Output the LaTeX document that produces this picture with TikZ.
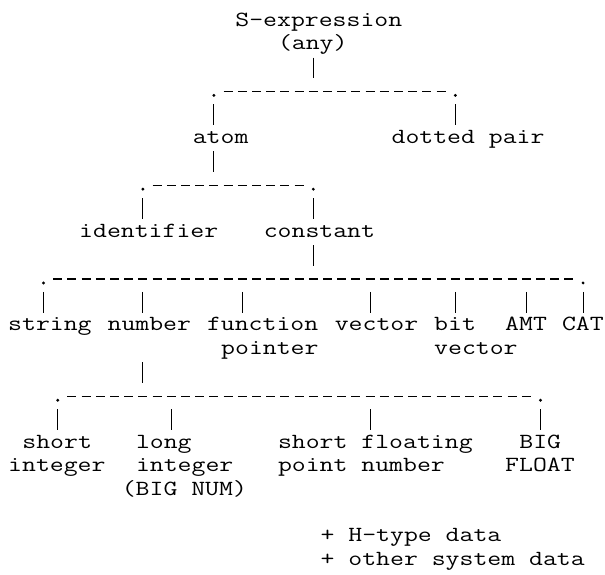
\documentclass[tikz,border=0pt]{standalone}
\usepackage{fontspec}
\newfontfamily\twfont[FakeStretch=1.25]{Latin Modern Mono}
\newcommand\colL[1]{(8+14.2*(#1))}
\newcommand\colC[1]{(15.1+14.2*(#1))}
\newcommand\rowC[1]{(21+23.45*(#1))}
\newcommand\rowB[1]{(26+23.45*(#1))}
\tikzset{
  txt/.style={font=\twfont\fontsize{21.6pt}{24pt}\selectfont, inner sep=0pt, anchor=base west, text height=14pt, text depth=4pt},
  bar/.style={line width=1.1pt},
  childbar/.style={bar, shorten <=13pt, shorten >=4pt},
  parentbar/.style={bar, shorten <=4pt, shorten >=13pt},
  bus/.style={line width=1.3pt, dash pattern=on 9pt off 5.2pt},
  jdot/.style={circle, fill, inner sep=0pt, minimum size=3.2pt}
}
\begin{document}
\begin{tikzpicture}[x=1pt,y=-1pt]
\useasboundingbox (0,0) rectangle (605,574);
% ---------- text nodes ----------
\node[txt] (sexpr) at ({\colL{16}},{\rowB{0}}) {S-expression};
\node[txt] (any)   at ({\colL{19}},{\rowB{1}}) {(any)};
\node[txt] (atom)  at ({\colL{13}},{\rowB{5}}) {atom};
\node[txt] (dpair) at ({\colL{27}},{\rowB{5}}) {dotted pair};
\node[txt] (ident) at ({\colL{5}},{\rowB{9}}) {identifier};
\node[txt] (const) at ({\colL{18}},{\rowB{9}}) {constant};
\node[txt] (string) at ({\colL{0}},{\rowB{13}}) {string};
\node[txt] (number) at ({\colL{7}},{\rowB{13}}) {number};
\node[txt] (func)  at ({\colL{14}},{\rowB{13}}) {function};
\node[txt] (func2) at ({\colL{15}},{\rowB{14}}) {pointer};
\node[txt] (vector) at ({\colL{23}},{\rowB{13}}) {vector};
\node[txt] (bitv)  at ({\colL{30}},{\rowB{13}}) {bit};
\node[txt] (bitv2) at ({\colL{30}},{\rowB{14}}) {vector};
\node[txt] (amt)   at ({\colL{35}},{\rowB{13}}) {AMT};
\node[txt] (cat)   at ({\colL{39}},{\rowB{13}}) {CAT};
\node[txt] (sint)  at ({\colL{1}},{\rowB{18}}) {short};
\node[txt] (sint2) at ({\colL{0}},{\rowB{19}}) {integer};
\node[txt] (lint)  at ({\colL{9}},{\rowB{18}}) {long};
\node[txt] (lint2) at ({\colL{9}},{\rowB{19}}) {integer};
\node[txt] (lint3) at ({\colL{8}},{\rowB{20}}) {(BIG NUM)};
\node[txt] (sfp)   at ({\colL{19}},{\rowB{18}}) {short floating};
\node[txt] (sfp2)  at ({\colL{19}},{\rowB{19}}) {point number};
\node[txt] (bigf)  at ({\colL{36}},{\rowB{18}}) {BIG};
\node[txt] (bigf2) at ({\colL{35}},{\rowB{19}}) {FLOAT};
\node[txt] (note1) at ({\colL{22}},{\rowB{22}}) {+ H-type data};
\node[txt] (note2) at ({\colL{22}},{\rowB{23}}) {+ other system data};
% ---------- bus 1 (row 3, cols 14..31) ----------
\coordinate (b1s) at ({\colL{15}+2.6},{\rowC{3}});
\coordinate (b1e) at ({\colL{31}-2.6},{\rowC{3}});
\draw[bus] (b1s) -- (b1e);
\node[jdot] at ({\colC{14}},{\rowC{3}+4}) {};
\node[jdot] at ({\colC{31}},{\rowC{3}+4}) {};
\coordinate (p-any) at ({\colC{21}},{\rowC{3}});
\coordinate (c-atom) at ({\colC{14}},{\rowC{3}});
\coordinate (c-dpair) at ({\colC{31}},{\rowC{3}});
\draw[parentbar] (p-any |- any.south) -- (p-any);
\draw[childbar] (c-atom) -- (c-atom |- atom.north);
\draw[childbar] (c-dpair) -- (c-dpair |- dpair.north);
% ---------- bus 2 (row 7, cols 9..21) ----------
\coordinate (b2s) at ({\colL{10}+2.6},{\rowC{7}});
\coordinate (b2e) at ({\colL{21}-2.6},{\rowC{7}});
\draw[bus] (b2s) -- (b2e);
\node[jdot] at ({\colC{9}},{\rowC{7}+4}) {};
\node[jdot] at ({\colC{21}},{\rowC{7}+4}) {};
\coordinate (p-atom) at ({\colC{14}},{\rowC{7}});
\coordinate (c-ident) at ({\colC{9}},{\rowC{7}});
\coordinate (c-const) at ({\colC{21}},{\rowC{7}});
\draw[parentbar] (p-atom |- atom.south) -- (p-atom);
\draw[childbar] (c-ident) -- (c-ident |- ident.north);
\draw[childbar] (c-const) -- (c-const |- const.north);
% ---------- bus 3 (row 11, cols 2..40) ----------
\coordinate (b3s) at ({\colL{3}+2.6},{\rowC{11}});
\coordinate (b3e) at ({\colL{40}-2.6},{\rowC{11}});
\draw[bus] (b3s) -- (b3e);
\node[jdot] at ({\colC{2}},{\rowC{11}+4}) {};
\node[jdot] at ({\colC{40}},{\rowC{11}+4}) {};
\coordinate (p-const) at ({\colC{21}},{\rowC{11}});
\draw[parentbar] (p-const |- const.south) -- (p-const);
\coordinate (c-string) at ({\colC{2}},{\rowC{11}});
\coordinate (c-number) at ({\colC{9}},{\rowC{11}});
\coordinate (c-func) at ({\colC{16}},{\rowC{11}});
\coordinate (c-vector) at ({\colC{25}},{\rowC{11}});
\coordinate (c-bitv) at ({\colC{31}},{\rowC{11}});
\coordinate (c-amt) at ({\colC{36}},{\rowC{11}});
\coordinate (c-cat) at ({\colC{40}},{\rowC{11}});
\draw[childbar] (c-string) -- (c-string |- string.north);
\draw[childbar] (c-number) -- (c-number |- number.north);
\draw[childbar] (c-func) -- (c-func |- func.north);
\draw[childbar] (c-vector) -- (c-vector |- vector.north);
\draw[childbar] (c-bitv) -- (c-bitv |- bitv.north);
\draw[childbar] (c-amt) -- (c-amt |- amt.north);
\draw[childbar] (c-cat) -- (c-cat |- cat.north);
% ---------- bus 4 (row 16, cols 3..37) ----------
\coordinate (b4s) at ({\colL{4}+2.6},{\rowC{16}});
\coordinate (b4e) at ({\colL{37}-2.6},{\rowC{16}});
\draw[bus] (b4s) -- (b4e);
\node[jdot] at ({\colC{3}},{\rowC{16}+4}) {};
\node[jdot] at ({\colC{37}},{\rowC{16}+4}) {};
\coordinate (p-number) at ({\colC{9}},{\rowC{16}});
\draw[bar, shorten <=27.4pt, shorten >=13pt] (p-number |- number.south) -- (p-number);
\coordinate (c-sint) at ({\colC{3}},{\rowC{16}});
\coordinate (c-lint) at ({\colC{11}},{\rowC{16}});
\coordinate (c-sfp) at ({\colC{25}},{\rowC{16}});
\coordinate (c-bigf) at ({\colC{37}},{\rowC{16}});
\draw[childbar] (c-sint) -- (c-sint |- sint.north);
\draw[childbar] (c-lint) -- (c-lint |- lint.north);
\draw[childbar] (c-sfp) -- (c-sfp |- sfp.north);
\draw[childbar] (c-bigf) -- (c-bigf |- bigf.north);
\end{tikzpicture}
\end{document}
